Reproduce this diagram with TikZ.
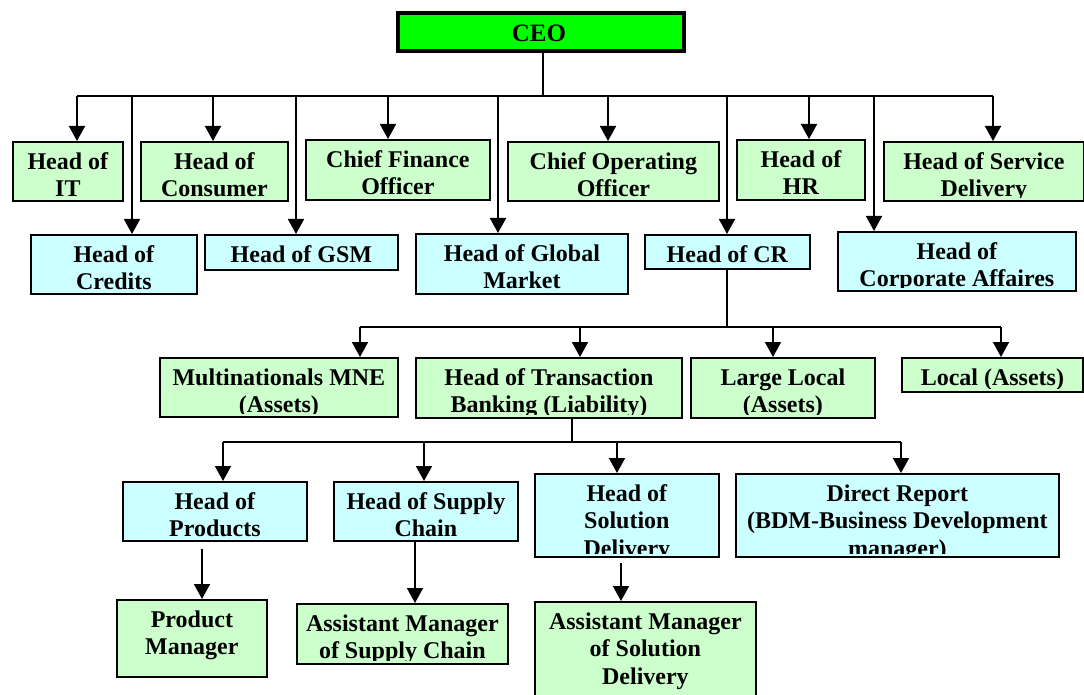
\documentclass[tikz,border=0pt]{standalone}
\usepackage{fontspec}
\setmainfont{Liberation Serif}
\usetikzlibrary{arrows.meta}

\definecolor{paleGreen}{HTML}{CCFFCC}
\definecolor{paleCyan}{HTML}{CCFFFF}
\definecolor{ceoGreen}{HTML}{00FF00}

\tikzset{
  unitbox/.style={draw=black, line width=1.8pt, inner sep=0pt, anchor=north west},
  lbl/.style={font=\bfseries\fontsize{24}{27.5}\selectfont, align=center, inner sep=0pt, anchor=north},
  wire/.style={line width=1.8pt},
  arrowline/.style={line width=1.8pt, -{Triangle[width=16pt,length=15pt]}},
}

% \orgbox{name}{x1}{y1}{x2}{y2}{fill}{text}: box with text clipped to its inside
\newcommand\orgbox[7]{%
  \node[unitbox, fill=#6, minimum width={(#4-#2)*1pt}, minimum height={(#5-#3)*1pt}] (#1) at (#2,#3) {};
  \begin{scope}
    \clip ([shift={(1pt,4pt)}]#1.south west) rectangle ([xshift=-1pt]#1.north east);
    \node[lbl] (#1-text) at ([yshift=-11pt]#1.north) {\rule{0pt}{17pt}#7};
  \end{scope}}

\begin{document}
\begin{tikzpicture}[x=1pt, y=-1pt]
\useasboundingbox (0,0) rectangle (1084,695);

% CEO
\node[draw=black, line width=4pt, fill=ceoGreen, anchor=north west, inner sep=0pt,
      minimum width=286pt, minimum height=38pt] (ceo) at (396,11) {};
\node[font=\bfseries\fontsize{25}{30}\selectfont, anchor=base, inner sep=0pt] (ceo-text) at (539,42) {CEO};

% first tier
\orgbox{it}{12}{141}{122}{200}{paleGreen}{Head of\\IT}
\orgbox{cons}{140}{141}{287}{200}{paleGreen}{Head of\\Consumer}
\orgbox{cfo}{305}{139}{489}{199}{paleGreen}{Chief Finance\\Officer}
\orgbox{coo}{507}{141}{718}{200}{paleGreen}{Chief Operating\\Officer}
\orgbox{hr}{736}{139}{864}{199}{paleGreen}{Head of\\HR}
\orgbox{serv}{883}{141}{1083}{200}{paleGreen}{Head of Service\\Delivery}

\orgbox{cred}{30}{234}{196}{293}{paleCyan}{Head of\\Credits}
\orgbox{gsm}{204}{234}{397}{269}{paleCyan}{Head of GSM}
\orgbox{glob}{415}{233}{627}{293}{paleCyan}{Head of Global\\Market}
\orgbox{cr}{644}{234}{809}{268}{paleCyan}{Head of CR}
\orgbox{corp}{837}{231}{1075}{290}{paleCyan}{Head of\\Corporate Affaires}

% under Head of CR
\orgbox{mne}{159}{357}{397}{416}{paleGreen}{Multinationals MNE\\(Assets)}
\orgbox{tb}{415}{357}{681}{417}{paleGreen}{Head of Transaction\\Banking (Liability)}
\orgbox{ll}{690}{357}{874}{417}{paleGreen}{Large Local\\(Assets)}
\orgbox{loc}{901}{357}{1082}{391}{paleGreen}{Local (Assets)}

% under Transaction Banking
\orgbox{prod}{122}{481}{306}{540}{paleCyan}{Head of\\Products}
\orgbox{sup}{333}{481}{517}{540}{paleCyan}{Head of Supply\\Chain}
\orgbox{sol}{534}{473}{718}{556}{paleCyan}{Head of\\Solution\\Delivery}
\orgbox{dr}{735}{473}{1058}{556}{paleCyan}{Direct Report\\(BDM-Business Development\\manager)}

% bottom tier
\orgbox{pm}{116}{599}{266}{676}{paleGreen}{Product\\Manager}
\orgbox{ams}{296}{603}{507}{663}{paleGreen}{Assistant Manager\\of Supply Chain}
\orgbox{asd}{534}{601}{755}{702}{paleGreen}{Assistant Manager\\of Solution\\Delivery}

% CEO bus
\coordinate (bus1) at (543,96);
\draw[wire] (bus1 |- ceo.south) -- (bus1);
\foreach \n/\x in {it/77, cons/213, cfo/388, coo/608, hr/809, serv/993,
                   cred/132, gsm/296, glob/498, cr/727, corp/874}{
  \coordinate (d-\n) at (\x,96);
  \draw[arrowline] (d-\n) -- (d-\n |- \n.north);
}
\draw[wire] (d-it) -- (d-serv);

% Head of CR bus
\coordinate (bus2) at (727,327);
\draw[wire] (bus2 |- cr.south) -- (bus2);
\foreach \n/\x in {mne/360, tb/580, ll/773, loc/1001}{
  \coordinate (d-\n) at (\x,327);
  \draw[arrowline] (d-\n) -- (d-\n |- \n.north);
}
\draw[wire] (d-mne) -- (d-loc);

% Transaction Banking bus
\coordinate (bus3) at (572,442);
\draw[wire] (bus3 |- tb.south) -- (bus3);
\foreach \n/\x in {prod/223, sup/424, sol/617, dr/901}{
  \coordinate (d-\n) at (\x,442);
  \draw[arrowline] (d-\n) -- (d-\n |- \n.north);
}
\draw[wire] (d-prod) -- (d-dr);

% single reports
\coordinate (s-pm) at (202,549);
\draw[arrowline] (s-pm) -- (s-pm |- pm.north);
\coordinate (s-ams) at (415,540);
\draw[arrowline] (s-ams) -- (s-ams |- ams.north);
\coordinate (s-asd) at (621,563);
\draw[arrowline] (s-asd) -- (s-asd |- asd.north);
\end{tikzpicture}
\end{document}
